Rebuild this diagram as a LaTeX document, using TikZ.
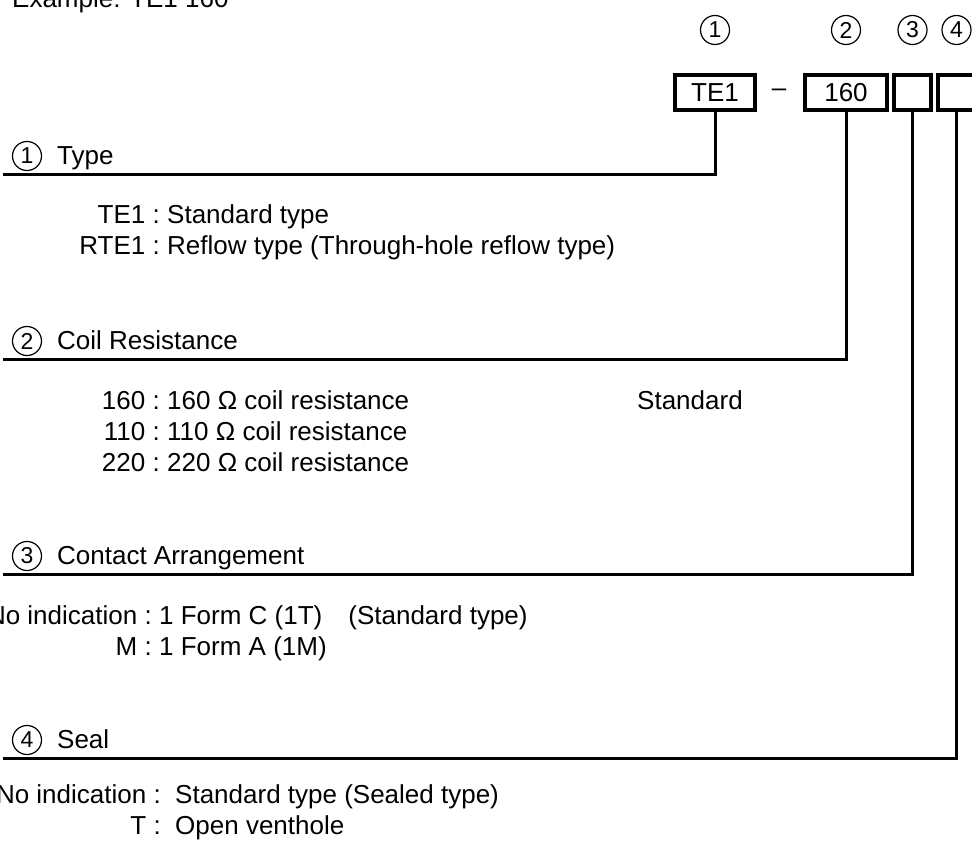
\documentclass[tikz,border=0pt]{standalone}
\usepackage{fontspec}
\setmainfont{Liberation Sans}
\usetikzlibrary{positioning}
\tikzset{>=latex}
\tikzset{font=\fontsize{26}{31}\selectfont}
\tikzset{codebox/.style={draw, line width=4pt, minimum height=35pt, inner sep=0pt},
  numcirc/.style={circle, draw, line width=1.2pt, minimum size=29pt, inner sep=0pt,
    font=\fontsize{23}{23}\selectfont},
  lead/.style={line width=3pt},
  keytext/.style={anchor=base east, inner sep=0pt},
  valtext/.style={anchor=base west, inner sep=0pt}}

\begin{document}
\begin{tikzpicture}[x=1pt, y=-1pt]
    \useasboundingbox (0, 0) rectangle (972, 846);
    \node[valtext] (title) at (12, 7) {Example: TE1 160};
    % the code boxes
    \node[codebox, minimum width=80pt] (b1) at (715, 92.5) {TE1};
    \node[anchor=base, inner sep=0pt] (dash) at (779, 96) {--};
    \node[codebox, minimum width=82pt] (b2) at (846, 92.5) {160};
    \node[codebox, minimum width=37pt] (b3) at (912.5, 92.5) {};
    \node[codebox, minimum width=37pt] (b4) at (956.5, 92.5) {};
    \foreach \n in {1, 2, 3, 4}
    {
      \node[numcirc] (top\n) at (b\n |- 0, 30) {\n};
    }
    % headings and leads
    \foreach \n/\y/\t in {1/174/Type, 2/359/Coil Resistance,
      3/574/Contact Arrangement, 4/758/Seal}
    {
      \node[numcirc] (c\n) at (27, \y-18) {\n};
      \node[valtext] (h\n) at (57, \y-10) {\t};
      \coordinate (e\n) at (3, \y);
      \draw[lead] (b\n.south) |- (e\n);
    }
    % 1 type
    \node[keytext] (k11) at (160, 223) {TE1 :};
    \node[valtext] (v11) at (167, 223) {Standard type};
    \node[keytext] (k12) at (160, 254) {RTE1 :};
    \node[valtext] (v12) at (167, 254) {Reflow type (Through-hole reflow type)};
    % 2 coil resistance
    \foreach \r/\y in {160/409, 110/440, 220/471}
    {
      \node[keytext] (k2\r) at (160, \y) {\r\ :};
      \node[valtext] (v2\r) at (167, \y) {\r\ Ω coil resistance};
    }
    \node[valtext] (std) at (637, 409) {Standard};
    % 3 contact arrangement
    \node[keytext] (k31) at (152, 624) {No indication :};
    \node[valtext] (v31) at (159, 624) {1 Form C (1T)\hspace{26pt}(Standard type)};
    \node[keytext] (k32) at (152, 655) {M :};
    \node[valtext] (v32) at (159, 655) {1 Form A (1M)};
    % 4 seal
    \node[keytext] (k41) at (161, 803) {No indication :};
    \node[valtext] (v41) at (175, 803) {Standard type (Sealed type)};
    \node[keytext] (k42) at (161, 834) {T :};
    \node[valtext] (v42) at (175, 834) {Open venthole};
  \end{tikzpicture}
\end{document}
